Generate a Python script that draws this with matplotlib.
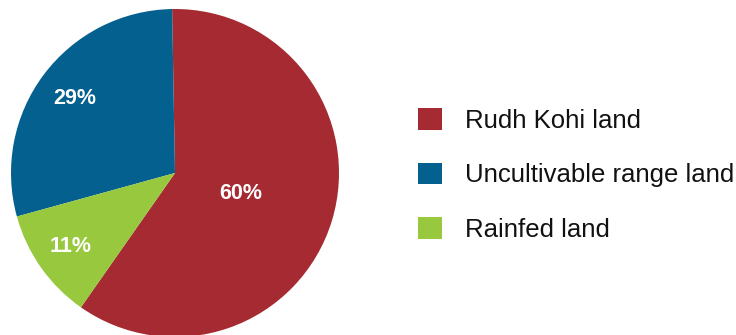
import matplotlib
matplotlib.use("Agg")
import matplotlib.pyplot as plt
import numpy as np

plt.rcParams['font.family'] = ['Liberation Sans', 'DejaVu Sans']

labels = ["Rudh Kohi land", "Uncultivable range land", "Rainfed land"]
shares = [60, 29, 11]
colors = ["#a52a32", "#04608e", "#97c83d"]
# how far from the centre each percentage sits (fraction of radius)
label_r = [0.42, 0.76, 0.78]

fig = plt.figure(figsize=(7.36, 3.35), dpi=100)
ax = fig.add_axes([11/736, -2/335, 328/736, 328/335])

wedges, _ = ax.pie(shares, colors=colors, startangle=235, counterclock=True,
                   radius=1, wedgeprops=dict(linewidth=0))
ax.set_xlim(-1, 1)
ax.set_ylim(-1, 1)
ax.set_aspect('equal')

for w, v, r in zip(wedges, shares, label_r):
    mid = np.deg2rad((w.theta1 + w.theta2) / 2)
    ax.text(r*np.cos(mid), r*np.sin(mid), f"{v}%", color="white",
            fontsize=15.5, fontweight="bold", ha="center", va="center")

leg = fig.legend(wedges, labels, loc="center left",
                 bbox_to_anchor=(418/736, 1 - 175/335), frameon=False,
                 fontsize=18.5, handlelength=0.93, handleheight=0.93,
                 handletextpad=0.9, labelspacing=1.17, borderpad=0,
                 borderaxespad=0)
for t in leg.get_texts():
    t.set_color("#111111")

fig.savefig("out.png", dpi=100)
